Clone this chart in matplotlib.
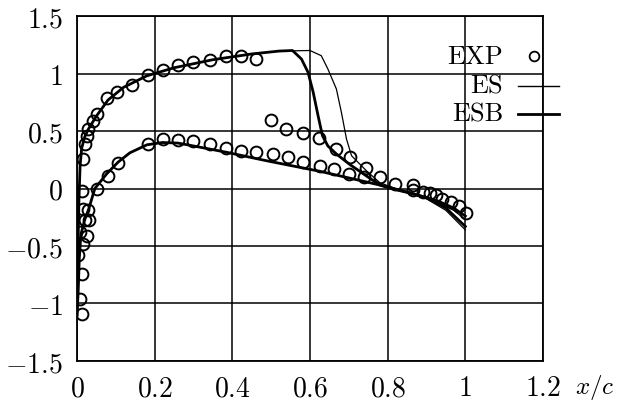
import matplotlib
matplotlib.use("Agg")
import matplotlib.pyplot as plt

plt.rcParams["mathtext.fontset"] = "cm"
plt.rcParams["font.family"] = ["cmr10", "DejaVu Serif"]

# experimental Cp (plotted as -Cp), suction side
exp_up_x = [0.012, 0.016, 0.02, 0.025, 0.029, 0.042, 0.051, 0.076, 0.104, 0.141,
            0.183, 0.222, 0.26, 0.30, 0.342, 0.383, 0.423, 0.462,
            0.50, 0.539, 0.582, 0.623, 0.666, 0.704, 0.743, 0.779, 0.818, 0.865,
            0.865, 0.89, 0.91, 0.925, 0.94, 0.963, 0.985, 1.003]
exp_up_y = [-0.02, 0.26, 0.39, 0.46, 0.52, 0.59, 0.65, 0.79, 0.84, 0.90,
            0.99, 1.03, 1.07, 1.10, 1.12, 1.155, 1.155, 1.126,
            0.60, 0.52, 0.48, 0.44, 0.34, 0.27, 0.18, 0.10, 0.04, 0.03,
            -0.01, -0.03, -0.04, -0.06, -0.09, -0.12, -0.15, -0.21]

# experimental, pressure side
exp_lo_x = [0.012, 0.009, 0.012, 0.003, 0.016, 0.009, 0.025, 0.021, 0.03, 0.015,
            0.029, 0.051, 0.081, 0.106, 0.183, 0.222, 0.26, 0.30, 0.342, 0.383,
            0.423, 0.462, 0.505, 0.543, 0.582, 0.625, 0.663, 0.70, 0.74]
exp_lo_y = [-1.09, -0.96, -0.74, -0.58, -0.48, -0.38, -0.41, -0.27, -0.27, -0.18,
            -0.19, -0.005, 0.11, 0.22, 0.39, 0.43, 0.42, 0.41, 0.39, 0.35,
            0.33, 0.32, 0.30, 0.27, 0.23, 0.20, 0.17, 0.126, 0.10]

# ESB computation
esb_up_x = [0.0, 0.002, 0.005, 0.008, 0.012, 0.02, 0.03, 0.05, 0.08, 0.12, 0.18,
            0.25, 0.35, 0.45, 0.52, 0.555, 0.578, 0.595, 0.608, 0.621, 0.632,
            0.646, 0.668, 0.702, 0.745, 0.78, 0.82, 0.87, 0.93, 0.97, 1.0]
esb_up_y = [-1.1, -0.6, -0.1, 0.2, 0.35, 0.45, 0.52, 0.63, 0.77, 0.88, 0.98,
            1.05, 1.12, 1.17, 1.195, 1.2, 1.126, 1.01, 0.84, 0.63, 0.46,
            0.37, 0.30, 0.21, 0.11, 0.03, -0.01, -0.05, -0.11, -0.17, -0.24]
esb_lo_x = [0.0, 0.003, 0.006, 0.01, 0.02, 0.03, 0.046, 0.076, 0.106, 0.136,
            0.18, 0.22, 0.26, 0.30, 0.385, 0.49, 0.625, 0.78, 0.85, 0.9, 0.95, 1.0]
esb_lo_y = [-1.1, -0.9, -0.6, -0.4, -0.27, -0.18, 0.0, 0.126, 0.23, 0.31,
            0.38, 0.40, 0.395, 0.37, 0.315, 0.24, 0.15, 0.03, -0.03, -0.08, -0.17, -0.33]

# ES computation
es_up_x = [0.0, 0.002, 0.005, 0.008, 0.012, 0.02, 0.03, 0.05, 0.08, 0.12, 0.18,
           0.25, 0.35, 0.45, 0.52, 0.60, 0.629, 0.646, 0.668, 0.681, 0.694,
           0.707, 0.745, 0.78, 0.82, 0.87, 0.93, 0.97, 1.0]
es_up_y = [-1.1, -0.6, -0.1, 0.2, 0.35, 0.45, 0.52, 0.63, 0.77, 0.88, 0.98,
           1.05, 1.12, 1.17, 1.195, 1.2, 1.155, 1.04, 0.865, 0.66, 0.43,
           0.285, 0.155, 0.05, 0.0, -0.05, -0.12, -0.19, -0.27]
es_lo_x = [0.0, 0.003, 0.006, 0.01, 0.02, 0.03, 0.046, 0.076, 0.106, 0.136,
           0.18, 0.22, 0.26, 0.30, 0.385, 0.49, 0.625, 0.78, 0.85, 0.9, 0.95, 1.0]
es_lo_y = [-1.1, -0.9, -0.6, -0.4, -0.27, -0.18, 0.0, 0.126, 0.23, 0.31,
           0.38, 0.40, 0.395, 0.37, 0.315, 0.24, 0.15, 0.03, -0.035, -0.09, -0.19, -0.36]

xticks = [0, 0.2, 0.4, 0.6, 0.8, 1, 1.2]
xtick_labels = ["0", "0.2", "0.4", "0.6", "0.8", "1", "1.2"]
yticks = [-1.5, -1, -0.5, 0, 0.5, 1, 1.5]
ytick_labels = [r"$-1.5$", r"$-1$", r"$-0.5$", r"$0$", r"$0.5$", r"$1$", r"$1.5$"]

fig = plt.figure(figsize=(6.19, 4.06), dpi=100)
ax = fig.add_axes([0.1244, 0.1084, 0.7528, 0.8497])

ax.plot(es_up_x, es_up_y, color="black", lw=0.9)
ax.plot(es_lo_x, es_lo_y, color="black", lw=0.9)
ax.plot(esb_up_x, esb_up_y, color="black", lw=2.0)
ax.plot(esb_lo_x, esb_lo_y, color="black", lw=2.0)
ax.plot(exp_up_x, exp_up_y, ls="none", marker="o", ms=8.5, mfc="none", mec="black", mew=1.4)
ax.plot(exp_lo_x, exp_lo_y, ls="none", marker="o", ms=8.5, mfc="none", mec="black", mew=1.4)

ax.set_xlim(0, 1.2)
ax.set_ylim(-1.5, 1.5)
ax.set_xticks(xticks)
ax.set_xticklabels([f"${t}$" for t in xtick_labels])
ax.set_yticks(yticks)
ax.set_yticklabels(ytick_labels)
ax.tick_params(length=0, labelsize=20)
ax.tick_params(axis="x", pad=10)
ax.tick_params(axis="y", pad=10)
ax.grid(True, color="black", lw=1.1)
for sp in ax.spines.values():
    sp.set_linewidth(1.3)

ax.text(1.068, -0.075, r"$x/c$", transform=ax.transAxes, fontsize=18,
        ha="left", va="center")

# hand-made key in the upper right
key = [("EXP", 57), ("ES", 87), ("ESB", 115)]
for label, ypix in key:
    fy = 1 - ypix / 406
    fig.text(503 / 619, fy, label, fontsize=19, ha="right", va="center")
fig.lines.append(plt.Line2D([534 / 619], [1 - 57 / 406], ls="none", marker="o", ms=7,
                            mfc="none", mec="black", mew=1.3, transform=fig.transFigure))
fig.lines.append(plt.Line2D([518 / 619, 559 / 619], [1 - 87 / 406] * 2, color="black",
                            lw=1.0, transform=fig.transFigure))
fig.lines.append(plt.Line2D([518 / 619, 559 / 619], [1 - 115 / 406] * 2, color="black",
                            lw=2.0, transform=fig.transFigure))

fig.savefig("out.png", dpi=100)
